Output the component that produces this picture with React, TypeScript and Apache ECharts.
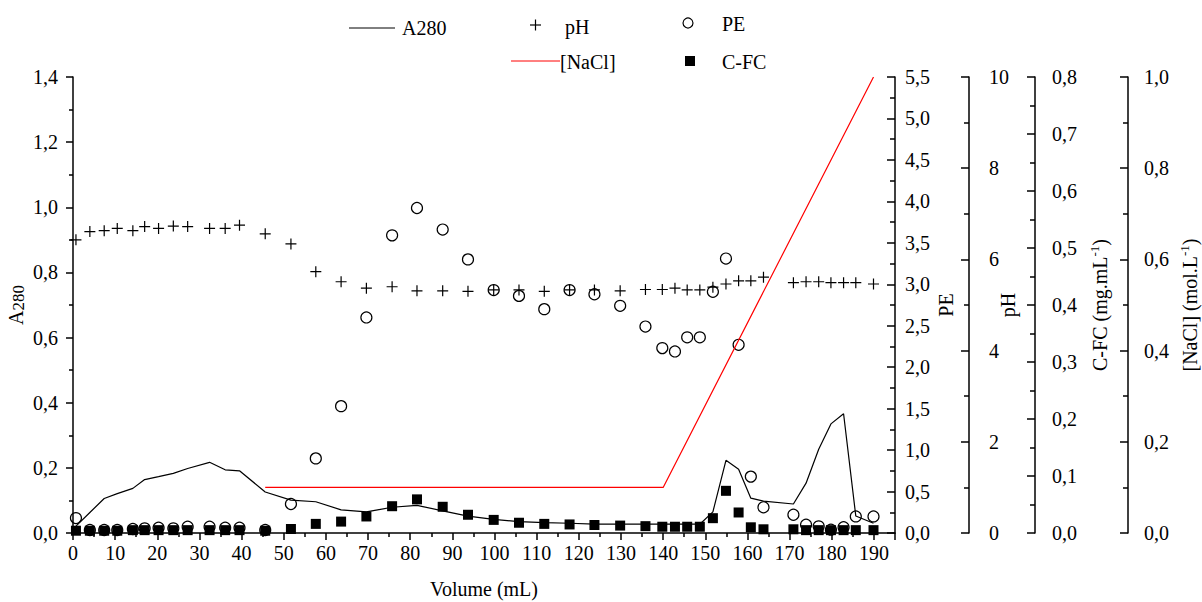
import React, { useEffect, useRef } from "react";
import * as echarts from "echarts";

const volume = [
  0.7, 4.0, 7.4, 10.5, 14.2, 17.0, 20.3, 23.8, 27.2, 32.4, 36.1, 39.5, 45.6, 51.7, 57.6, 63.6, 69.6, 75.7,
  81.6, 87.7, 93.7, 99.8, 105.8, 111.8, 117.8, 123.7, 129.8, 135.8, 139.8, 142.8, 145.7, 148.7, 151.8,
  154.9, 157.9, 160.8, 163.8, 170.9, 173.9, 176.9, 179.8, 182.8, 185.7, 189.9,
];
const a280 = [
  0.021, 0.063, 0.106, 0.121, 0.137, 0.164, 0.173, 0.183, 0.198, 0.217, 0.194, 0.191, 0.126, 0.101, 0.096,
  0.071, 0.065, 0.079, 0.085, 0.068, 0.052, 0.042, 0.035, 0.032, 0.03, 0.027, 0.027, 0.027, 0.027, 0.027,
  0.027, 0.027, 0.065, 0.223, 0.196, 0.107, 0.098, 0.089, 0.153, 0.257, 0.335, 0.366, 0.052, 0.03,
];
const ph = [
  6.43, 6.61, 6.63, 6.68, 6.63, 6.72, 6.68, 6.73, 6.72, 6.68, 6.68, 6.75, 6.56, 6.34, 5.73, 5.51, 5.37, 5.4,
  5.31, 5.31, 5.3, 5.33, 5.33, 5.3, 5.33, 5.33, 5.31, 5.34, 5.34, 5.37, 5.33, 5.33, 5.39, 5.46, 5.53, 5.53,
  5.61, 5.49, 5.51, 5.51, 5.49, 5.49, 5.49, 5.46,
];
const pe = [
  0.18, 0.036, 0.036, 0.036, 0.048, 0.056, 0.064, 0.056, 0.076, 0.076, 0.064, 0.064, 0.036, 0.35, 0.9, 1.53,
  2.6, 3.59, 3.92, 3.66, 3.3, 2.93, 2.86, 2.7, 2.93, 2.88, 2.74, 2.49, 2.23, 2.19, 2.36, 2.36, 2.91, 3.31,
  2.27, 0.68, 0.31, 0.22, 0.1, 0.08, 0.04, 0.07, 0.2, 0.2,
];
const cfc = [
  0.004, 0.004, 0.004, 0.004, 0.005, 0.005, 0.005, 0.005, 0.005, 0.005, 0.005, 0.005, 0.004, 0.007, 0.016,
  0.02, 0.029, 0.047, 0.059, 0.046, 0.032, 0.023, 0.018, 0.016, 0.015, 0.014, 0.013, 0.012, 0.011, 0.011,
  0.011, 0.011, 0.026, 0.074, 0.036, 0.01, 0.0065, 0.0065, 0.005, 0.005, 0.005, 0.005, 0.005, 0.005,
];
const naclVolume = [45.6, 140.0, 189.9];
const nacl = [0.1, 0.1, 1.0];

const FONT = "'Liberation Serif', 'Times New Roman', serif";
const comma = (d: number) => (v: number) => v.toFixed(d).replace(".", ",");

function rightAxis(
  min: number,
  max: number,
  interval: number,
  offset: number,
  margin: number,
  fmt: (v: number) => string,
  name: string,
  nameGap: number,
  rich: any
) {
  return {
    type: "value",
    position: "right",
    offset,
    min,
    max,
    interval,
    name,
    nameLocation: "middle",
    nameGap,
    nameMoveOverlap: false,
    nameTextStyle: { color: "#000", fontFamily: FONT, fontSize: 20, rich },
    axisLine: { show: true, onZero: false, lineStyle: { color: "#000", width: 1.5 } },
    axisTick: { show: true, inside: true, length: 8, lineStyle: { color: "#000", width: 1.5 } },
    minorTick: { show: true, splitNumber: 2, length: 5, lineStyle: { color: "#000", width: 1.5 } },
    splitLine: { show: false },
    minorSplitLine: { show: false },
    axisLabel: { color: "#000", fontFamily: FONT, fontSize: 20, margin, formatter: fmt },
  };
}

export default function App() {
  const ref = useRef<HTMLDivElement>(null);
  useEffect(() => {
    if (!ref.current) return;
    const chart = echarts.init(ref.current, undefined, { renderer: "svg" });
    const txt = (x: number, y: number, text: string) => ({
      type: "text",
      x,
      y,
      style: { text, fill: "#000", fontFamily: FONT, fontSize: 20, verticalAlign: "middle" },
    });
    const supRich = {
      t: { fontFamily: FONT, fontSize: 20, lineHeight: 24, color: "#000" },
      s: { fontFamily: FONT, fontSize: 13, lineHeight: 24, verticalAlign: "top", color: "#000" },
    };
    chart.setOption({
      animation: false,
      backgroundColor: "#fff",
      textStyle: { fontFamily: FONT },
      grid: { left: 73, top: 77, right: 307, bottom: 69, outerBoundsMode: "none", containLabel: false },
      xAxis: {
        type: "value",
        min: 0,
        max: 195,
        interval: 10,
        name: "Volume (mL)",
        nameLocation: "middle",
        nameGap: 46,
        nameMoveOverlap: false,
        nameTextStyle: { color: "#000", fontFamily: FONT, fontSize: 20 },
        axisLine: { show: true, onZero: false, lineStyle: { color: "#000", width: 1.5 } },
        axisTick: { show: true, inside: false, length: 7, lineStyle: { color: "#000", width: 1.5 } },
        minorTick: { show: true, splitNumber: 2, length: 4, lineStyle: { color: "#000", width: 1.5 } },
        splitLine: { show: false },
        axisLabel: { color: "#000", fontFamily: FONT, fontSize: 20, margin: 10, showMaxLabel: false },
      },
      yAxis: [
        {
          type: "value",
          position: "left",
          min: 0,
          max: 1.4,
          interval: 0.2,
          name: "{a|A}{s|280}",
          nameLocation: "middle",
          nameGap: 46,
          nameMoveOverlap: false,
          nameTextStyle: {
            rich: {
              a: { fontFamily: FONT, fontSize: 20, lineHeight: 22, color: "#000" },
              s: { fontFamily: FONT, fontSize: 17, lineHeight: 22, verticalAlign: "bottom", color: "#000" },
            },
          },
          axisLine: { show: true, onZero: false, lineStyle: { color: "#000", width: 1.5 } },
          axisTick: { show: true, inside: false, length: 7, lineStyle: { color: "#000", width: 1.5 } },
          minorTick: { show: true, splitNumber: 2, length: 4, lineStyle: { color: "#000", width: 1.5 } },
          splitLine: { show: false },
          axisLabel: { color: "#000", fontFamily: FONT, fontSize: 20, margin: 15, formatter: comma(1) },
        },
        rightAxis(0, 5.5, 0.5, 0, 10, comma(1), "PE", 41, undefined),
        rightAxis(0, 10, 2, 74, 20, (v: number) => String(v), "pH", 29, undefined),
        rightAxis(0, 0.8, 0.1, 140, 17, comma(1), "{t|C-FC (mg.mL}{s|-1}{t|)}", 53, supRich),
        rightAxis(0, 1.0, 0.2, 233, 16, comma(1), "{t|[NaCl] (mol.L}{s|-1}{t|)}", 50, supRich),
      ],
      series: [
        {
          name: "A280",
          type: "line",
          yAxisIndex: 0,
          symbol: "none",
          lineStyle: { color: "#000", width: 1.2 },
          data: volume.map((v, i) => [v, a280[i]]),
        },
        {
          name: "[NaCl]",
          type: "line",
          yAxisIndex: 4,
          symbol: "none",
          lineStyle: { color: "#ff0000", width: 1.2 },
          data: naclVolume.map((v, i) => [v, nacl[i]]),
        },
        {
          name: "PE",
          type: "scatter",
          yAxisIndex: 1,
          symbol: "circle",
          symbolSize: 11,
          itemStyle: { color: "rgba(0,0,0,0)", borderColor: "#000", borderWidth: 1.2, opacity: 1 },
          data: volume.map((v, i) => [v, pe[i]]),
        },
        {
          name: "pH",
          type: "scatter",
          yAxisIndex: 2,
          symbol: "path://M0,5L10,5M5,0L5,10",
          symbolSize: 11,
          itemStyle: { color: "rgba(0,0,0,0)", borderColor: "#000", borderWidth: 1.2, opacity: 1 },
          data: volume.map((v, i) => [v, ph[i]]),
        },
        {
          name: "C-FC",
          type: "scatter",
          yAxisIndex: 3,
          symbol: "rect",
          symbolSize: 10,
          itemStyle: { color: "#000", opacity: 1 },
          data: volume.map((v, i) => [v, cfc[i]]),
        },
      ],
      graphic: [
        { type: "line", shape: { x1: 349, y1: 28, x2: 395, y2: 28 }, style: { stroke: "#000", lineWidth: 1 } },
        txt(402, 28, "A280"),
        { type: "line", shape: { x1: 530, y1: 25, x2: 541, y2: 25 }, style: { stroke: "#000", lineWidth: 1.2 } },
        { type: "line", shape: { x1: 535.5, y1: 19.5, x2: 535.5, y2: 30.5 }, style: { stroke: "#000", lineWidth: 1.2 } },
        txt(565, 27, "pH"),
        { type: "circle", shape: { cx: 688, cy: 23, r: 5 }, style: { stroke: "#000", fill: "none", lineWidth: 1.2 } },
        txt(722, 24, "PE"),
        { type: "line", shape: { x1: 511, y1: 61, x2: 560, y2: 61 }, style: { stroke: "#ff0000", lineWidth: 1 } },
        txt(560, 62, "[NaCl]"),
        { type: "rect", shape: { x: 685, y: 56, width: 10, height: 10 }, style: { fill: "#000" } },
        txt(722, 62, "C-FC"),
      ],
    });
    return () => chart.dispose();
  }, []);
  return (
    <div
      ref={ref}
      style={{ position: "fixed", left: 0, top: 0, width: 1202, height: 602, background: "#fff" }}
    />
  );
}
